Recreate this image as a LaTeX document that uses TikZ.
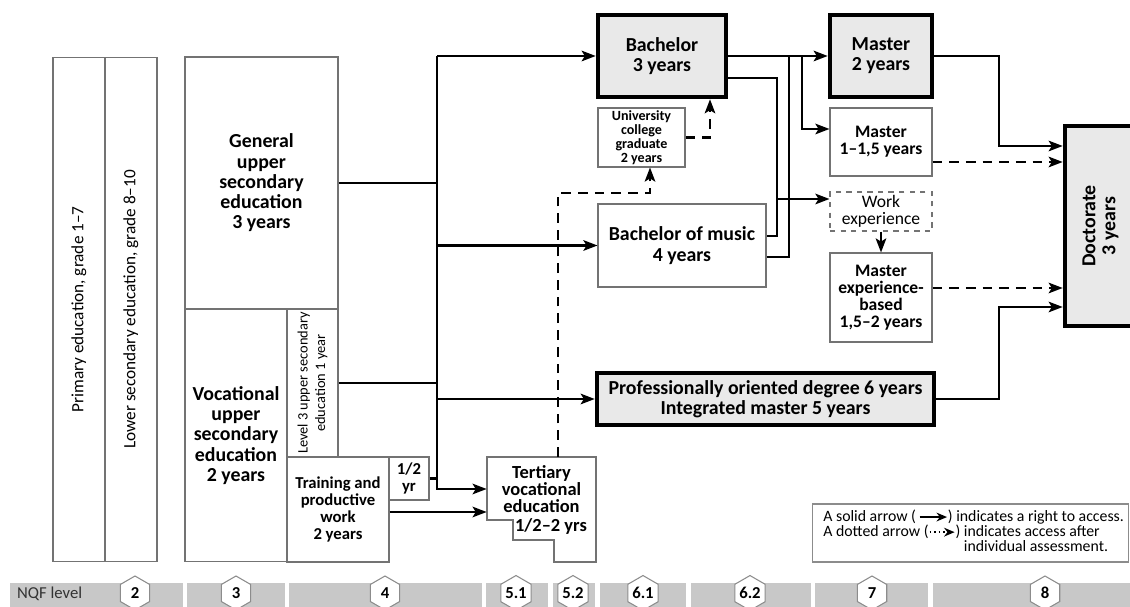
\documentclass[tikz,border=0pt]{standalone}
\usepackage{fontspec}
\setmainfont{Carlito}
\usetikzlibrary{arrows.meta,shapes.geometric}

\definecolor{bargray}{RGB}{200,200,200}
\definecolor{boxfill}{RGB}{233,233,233}

\newcommand{\solidsample}{\tikz[baseline=-0.6ex]\draw[line width=1pt,-{Stealth[length=6pt,width=5pt]}] (0,0) -- (0.55cm,0);}
\newcommand{\dotsample}{\tikz[baseline=-0.6ex]\draw[line width=1.1pt,dash pattern=on 1pt off 1.6pt,-{Stealth[length=6pt,width=5pt]}] (0,0) -- (0.5cm,0);}

\begin{document}
\begin{tikzpicture}[x=0.02cm, y=-0.02cm,
    thin/.style={draw=black!55, line width=0.6pt},
    box/.style={thin, align=center, inner sep=0pt},
    bigbox/.style={box, draw=black, line width=2.6pt, fill=boxfill},
    tbig/.style={font=\bfseries\fontsize{11.3}{11.5}\selectfont},
    tmed/.style={font=\bfseries\fontsize{10.5}{9.9}\selectfont},
    tmid/.style={font=\bfseries\fontsize{10}{9.6}\selectfont},
    tsm/.style={font=\bfseries\fontsize{9.5}{9.8}\selectfont},
    tucg/.style={font=\bfseries\fontsize{8}{7.9}\selectfont},
    line/.style={line width=1.35pt},
    arr/.style={line, -{Stealth[length=8pt,width=6pt,inset=1.8pt]}},
    darr/.style={arr, dash pattern=on 5.5pt off 4pt},
    hexa/.style={regular polygon, regular polygon sides=6, shape border rotate=30,
      draw=black!45, fill=white, line width=0.6pt, minimum size=0.68cm, inner sep=0pt,
      font=\bfseries\fontsize{9.5}{10}\selectfont}]
\useasboundingbox (0,0) rectangle (1130,607);
\fill[white] (0,0) rectangle (1130,607);
\clip (0,0) rectangle (1130,607);

% compulsory school
\node[box, font=\fontsize{9.8}{11}\selectfont, rotate=90, minimum width=10.1cm, minimum height=1.04cm] (prim) at (79,309.5) {Primary education, grade 1--7};
\node[box, font=\fontsize{9.8}{11}\selectfont, rotate=90, minimum width=10.1cm, minimum height=1.04cm] (lows) at (131,309.5) {Lower secondary education, grade 8--10};

% upper secondary
\node[box, tbig, minimum width=3.06cm, minimum height=5.04cm] (gen) at (261.5,183) {General\\upper\\secondary\\education\\3 years};
\node[box, tbig, minimum width=2.04cm, minimum height=5.06cm] (voc) at (236,435.5) {Vocational\\upper\\secondary\\education\\2 years};
\node[box, font=\fontsize{8.2}{10}\selectfont, rotate=90, minimum width=2.96cm, minimum height=1.02cm] (lvl3) at (312.5,383) {Level 3 upper secondary\\education 1 year};
\node[box, tsm, minimum width=2.04cm, minimum height=2.1cm] (train) at (338,509.5) {Training and\\productive\\work\\2 years};
\node[box, tsm, minimum width=0.8cm, minimum height=0.86cm] (half) at (409,478.5) {1/2\\yr};

% tertiary vocational
\node[tmed, align=center, inner sep=0pt, minimum width=2.18cm, minimum height=1.28cm] (tert) at (541.5,489) {Tertiary\\vocational\\education};
\node[tmed] (tyrs) at (551,526) {1/2--2 yrs};
\draw[thin] (487,457) -- (596,457) -- (596,562) -- (554,562) -- (554,540) -- (513,540) -- (513,520) -- (487,520) -- cycle;

% higher education
\node[bigbox, tbig, minimum width=2.56cm, minimum height=1.64cm] (bach) at (662,56) {Bachelor\\3 years};
\node[box, tucg, minimum width=1.74cm, minimum height=1.18cm] (ucg) at (641.5,137.5) {University\\college\\graduate\\2 years};
\node[box, tbig, minimum width=3.36cm, minimum height=1.66cm] (music) at (682,245.5) {Bachelor of music\\4 years};
\node[bigbox, tbig, minimum width=6.74cm, minimum height=1.04cm] (prof) at (765.5,399) {Professionally oriented degree 6 years\\Integrated master 5 years};
\node[bigbox, tbig, minimum width=2.04cm, minimum height=1.64cm] (mast) at (881,56) {Master\\2 years};
\node[box, tmid, minimum width=2.04cm, minimum height=1.36cm] (m15) at (881,142) {Master\\1--1,5 years};
\node[box, dashed, font=\fontsize{10}{9.6}\selectfont, minimum width=2.04cm, minimum height=0.78cm] (work) at (881,211.5) {Work\\experience};
\node[box, tmid, minimum width=2.04cm, minimum height=1.78cm] (mexp) at (881,297.5) {Master\\experience-\\based\\1,5--2 years};
\node[bigbox, tbig, rotate=90, minimum width=4cm, minimum height=1.42cm] (doc) at (1100.5,226) {Doctorate\\3 years};

% routing columns
\coordinate (trunk) at (437,0);
\coordinate (bx0) at (777,0);
\coordinate (bx1) at (789,0);
\coordinate (bx2) at (802,0);
\coordinate (dx) at (999,0);

\draw[line] (gen.east) -- (gen.east -| trunk);
\draw[line] (lvl3.south) -- (lvl3.south -| trunk);
\draw[line] (half.east) -- (half.east -| trunk);
\draw[arr] (trunk |- bach.west) -- (bach.west);
\draw[arr] (trunk |- bach.west) |- (tert.west);
\draw[arr] (trunk |- music.west) -- (music.west);
\draw[arr] (trunk |- prof.west) -- (prof.west);
\draw[arr] (train.east |- 0,512) -- (tert.west |- 0,512);

\draw[darr] (tert.north -| 558,0) -- (558,193) -| (ucg.south -| 650,0);
\draw[darr] (ucg.east) -| (bach.south -| 710,0);

\draw[arr] (bach.east) -- (mast.west);
\draw[arr] (bx2 |- bach.east) |- (m15.west |- 0,129);
\draw[line] (bach.east |- 0,78) -| (bx0 |- 0,236) -- (music.east |- 0,236);
\draw[arr] (bx0 |- 0,199) -- (work.west |- 0,199);
\draw[line] (music.east |- 0,257) -| (bx1 |- bach.east);
\draw[arr] (work.south) -- (mexp.north);

\draw[arr] (mast.east) -| (dx |- 0,146) -- (doc.north |- 0,146);
\draw[darr] (m15.east |- 0,162) -- (doc.north |- 0,162);
\draw[darr] (mexp.east |- 0,288) -- (doc.north |- 0,288);
\draw[arr] (prof.east) -| (dx |- 0,307) -- (doc.north |- 0,307);

% legend
\node[thin, draw=black!45, minimum width=6.32cm, minimum height=1.16cm] (leg) at (970.5,533) {};
\node[anchor=west, align=left, inner sep=0pt, font=\fontsize{9}{8.6}\selectfont] (legtxt) at (823,532)
  {A solid arrow (\,\solidsample) indicates a right to access.\\
   A dotted arrow (\dotsample) indicates access after\\
   \phantom{A dotted arrow (\dotsample) }individual assessment.};

% NQF levels
\foreach \a/\b in {10/183,187/285,289/482,486/548,553/595,600/686,691/811,815/928,933/1135}
  \fill[bargray] (\a,583) rectangle (\b,612);
\node[anchor=west, font=\fontsize{9.5}{10}\selectfont, text=black!80] (nqf) at (11,594) {NQF level};
\foreach \x/\l [count=\i] in {135/2,236/3,385/4,516/5.1,573/5.2,643/6.1,750/6.2,872/7,1045/8}
  \node[hexa] (lv\i) at (\x,593) {\l};
\end{tikzpicture}
\end{document}
